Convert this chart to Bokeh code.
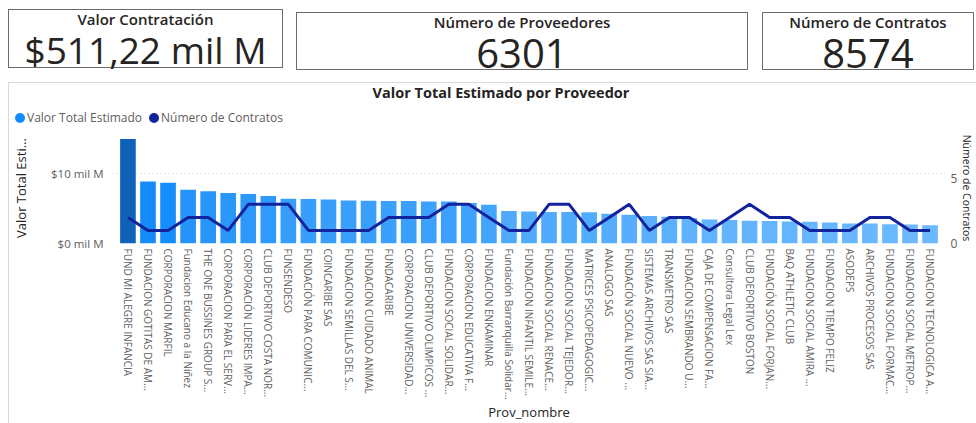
from bokeh.plotting import figure
from bokeh.models import (ColumnDataSource, FactorRange, Range1d, LinearAxis,
                          FixedTicker, Div)
from bokeh.layouts import column, row
from bokeh.embed import file_html
from bokeh.resources import INLINE

# ---------------- data ----------------
proveedores = [
    "FUND MI ALEGRE INFANCIA", "FUNDACION GOTITAS DE AM...", "CORPORACION MARFIL",
    "Fundacion Educano a la Niñez", "THE ONE BUSSINES GROUP S...", "CORPORACION PARA EL SERV...",
    "CORPORACIÓN LIDERES IMPA...", "CLUB DEPORTIVO COSTA NOR...", "FUNSENDESO",
    "FUNDACIÓN PARA COMUNIC...", "COINCARIBE SAS", "FUNDACION SEMILLAS DEL S...",
    "FUNDACION CUIDADO ANIMAL", "FUNDACARIBE", "CORPORACION UNIVERSIDAD...",
    "CLUB DEPORTIVO OLIMPICOS ...", "FUNDACION SOCIAL SOLIDAR...", "CORPORACION EDUCATIVA F...",
    "FUNDACION ENKAMINAR", "Fundación Barranquilla Solidar...", "FUNDACION INFANTIL SEMILE...",
    "FUNDACION SOCIAL RENACE...", "FUNDACION SOCIAL TEJEDOR...", "MATRICES PSICOPEDAGOGIC...",
    "ANALOGO SAS", "FUNDACIÓN SOCIAL NUEVO ...", "SISTEMAS ARCHIVOS SAS SIA...",
    "TRANSMETRO SAS", "FUNDACION SEMBRANDO U...", "CAJA DE COMPENSACION FA...",
    "Consultora Legal Lex", "CLUB DEPORTIVO BOSTON", "FUNDACIÓN SOCIAL FORJAN...",
    "BAQ ATHLETIC CLUB", "FUNDACION SOCIAL AMIRA ...", "FUNDACION TIEMPO FELIZ",
    "ASODEPS", "ARCHIVOS PROCESOS SAS", "FUNDACION SOCIAL FORMAC...",
    "FUNDACION SOCIAL METROP...", "FUNDACION TECNOLOGICA A...",
]
# Valor Total Estimado, in "mil M" (miles de millones)
valor_mil_m = [
    14.88, 8.84, 8.65, 7.64, 7.43, 7.20, 7.06, 6.77, 6.38, 6.33,
    6.28, 6.13, 6.09, 6.04, 6.04, 5.99, 5.99, 5.75, 5.51, 4.64,
    4.54, 4.49, 4.49, 4.45, 4.25, 4.10, 3.91, 3.81, 3.62, 3.43,
    3.33, 3.23, 3.19, 3.14, 3.09, 3.00, 2.86, 2.86, 2.75, 2.71, 2.61,
]
num_contratos = [
    2, 1, 1, 2, 2, 1, 3, 3, 3, 1, 1, 1, 1, 2, 2, 2, 3, 3, 2, 1, 1,
    3, 3, 1, 2, 3, 1, 2, 2, 1, 2, 3, 2, 2, 1, 1, 1, 2, 2, 1, 1,
]
kpi_titles = ["Valor Contratación", "Número de Proveedores", "Número de Contratos"]
kpi_values = ["$511,22 mil M", "6301", "8574"]
chart_title = "Valor Total Estimado por Proveedor"
series_names = ["Valor Total Estimado", "Número de Contratos"]
series_colors = ["#118DFF", "#12239E"]
y_ticks = [0, 10]
y_tick_labels = ["$0 mil M", "$10 mil M"]
y2_ticks = [0, 5]

FONT = "Open Sans"
DARK_TXT = "#252423"
GRAY_TXT = "#605E5C"
PANEL_BORDER = "#D9D9D9"

# ---------------- colours (gradient by value) ----------------
LIGHT = (108, 185, 255)
MID = (20, 140, 250)
DARK = (15, 98, 185)


def mix(c1, c2, t):
    return "#%02x%02x%02x" % tuple(int(round(a + (b - a) * t)) for a, b in zip(c1, c2))


lo, hi = min(valor_mil_m), max(valor_mil_m)
center = (lo + hi) / 2
colors = []
for v in valor_mil_m:
    if v <= center:
        colors.append(mix(LIGHT, MID, (v - lo) / (center - lo)))
    else:
        colors.append(mix(MID, DARK, (v - center) / (hi - center)))

src = ColumnDataSource(dict(prov=proveedores, valor=valor_mil_m,
                            n=num_contratos, color=colors))

# ---------------- figure ----------------
p = figure(
    x_range=FactorRange(factors=proveedores, range_padding=0.27,
                        range_padding_units="absolute"),
    y_range=Range1d(0, 15.8),
    width=968, height=291,
    output_backend="svg", toolbar_location=None,
    min_border_left=99, min_border_right=0, min_border_top=0, min_border_bottom=0,
    margin=(0, 0, 0, 8),
    styles={"border-left": f"1px solid {PANEL_BORDER}"},
)
p.outline_line_color = None
p.background_fill_color = "white"
p.border_fill_color = "white"

bars = p.vbar(x="prov", top="valor", width=0.78, source=src,
              fill_color="color", line_color=None)

p.extra_y_ranges = {"n": Range1d(0, 8.5)}
ln = p.line(x="prov", y="n", source=src, y_range_name="n",
            line_color=series_colors[1], line_width=3)

# axes
yax = p.yaxis[0]
yax.ticker = FixedTicker(ticks=y_ticks)
yax.major_label_overrides = dict(zip(y_ticks, y_tick_labels))
yax.axis_label = "Valor Total Esti..."

ax2 = LinearAxis(y_range_name="n", ticker=FixedTicker(ticks=y2_ticks),
                 axis_label="Número de Contratos")
p.add_layout(ax2, "right")

for ax in (yax, ax2, p.xaxis[0]):
    ax.axis_line_color = None
    ax.major_tick_line_color = None
    ax.minor_tick_line_color = None
    ax.major_tick_out = 0
    ax.major_tick_in = 0
    ax.minor_tick_out = 0
    ax.major_label_text_font = FONT
    ax.major_label_text_color = GRAY_TXT
    ax.axis_label_text_font = FONT
    ax.axis_label_text_font_style = "normal"
    ax.axis_label_text_color = DARK_TXT
    ax.axis_label_text_font_size = "13px"

yax.major_label_text_font_size = "11.5px"
yax.major_label_standoff = 9
yax.axis_label_standoff = 18
ax2.major_label_text_font_size = "12px"
ax2.major_label_standoff = 5
ax2.axis_label_standoff = 0
ax2.axis_label_text_font_size = "10.5px"

xax = p.xaxis[0]
xax.axis_label = "Prov_nombre"
xax.major_label_orientation = "vertical"
xax.major_label_text_font_size = "10px"
xax.major_label_standoff = 5
xax.axis_label_standoff = 0

p.xgrid.grid_line_color = None
p.ygrid.ticker = FixedTicker(ticks=y_ticks)
p.ygrid.grid_line_color = "#C8C6C4"
p.ygrid.grid_line_dash = "1 3"
p.ygrid.grid_line_width = 1

# ---------------- chart header: title + legend ----------------
legend_html = "".join(
    f'<span style="display:inline-block;width:10px;height:10px;border-radius:50%;'
    f'background:{c};vertical-align:-1px;margin-right:2px;"></span>'
    f'<span style="margin-right:7px;">{name}</span>'
    for name, c in zip(series_names, series_colors)
)
header = Div(
    text=(
        f'<div style="position:relative;width:968px;height:50px;box-sizing:border-box;'
        f'border-top:1px solid {PANEL_BORDER};border-left:1px solid {PANEL_BORDER};'
        f'font-family:\'{FONT}\';">'
        f'<div style="position:absolute;left:0;top:1px;width:984px;text-align:center;'
        f'font-size:14.5px;font-weight:700;line-height:18px;color:{DARK_TXT};">{chart_title}</div>'
        f'<div style="position:absolute;left:6px;top:27px;white-space:nowrap;'
        f'font-size:12px;line-height:16px;color:{GRAY_TXT};">{legend_html}</div>'
        f'</div>'
    ),
    width=968, height=50, margin=(12, 0, 0, 8),
)

# ---------------- KPI cards ----------------
def card(title, value, w, h, top, left, vsize):
    html = (
        f'<div style="width:{w}px;height:{h}px;box-sizing:border-box;'
        f'border:1px solid #6b6b6b;text-align:center;font-family:\'{FONT}\';'
        f'color:{DARK_TXT};">'
        f'<div style="font-size:15px;font-weight:600;line-height:18px;">{title}</div>'
        f'<div style="font-size:{vsize}px;line-height:37px;margin-top:3px;">{value}</div>'
        f'</div>'
    )
    return Div(text=html, width=w, height=h, margin=(top, 0, 0, left))


c1 = card(kpi_titles[0], kpi_values[0], 275, 59, 9, 8, 37)
c2 = card(kpi_titles[1], kpi_values[1], 452, 58, 12, 13, 40)
c3 = card(kpi_titles[2], kpi_values[2], 212, 58, 12, 14, 40)

layout = column(row(c1, c2, c3, spacing=0), header, p, spacing=0)

open("out.html", "w").write(file_html(layout, INLINE))
